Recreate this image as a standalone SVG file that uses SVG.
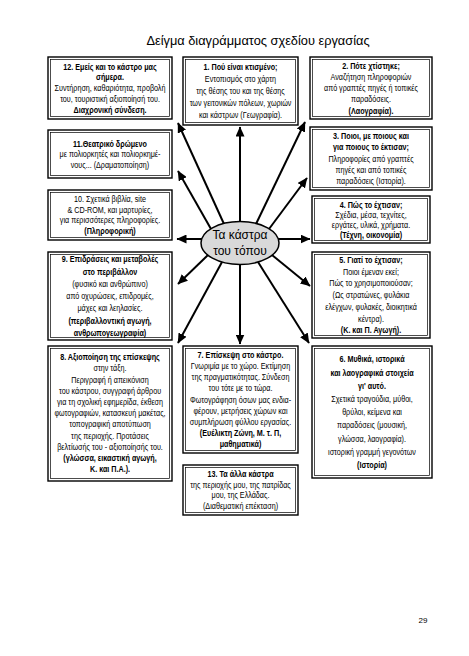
<svg xmlns="http://www.w3.org/2000/svg" width="469" height="656" viewBox="0 0 469 656">
<style>
.f{font-family:"Liberation Sans",Arial,sans-serif;font-size:9px;text-anchor:middle;fill:#000}
.b{font-weight:bold}
.o{fill:#fff;stroke:#000;stroke-width:1.4}
.i{fill:none;stroke:#000;stroke-width:0.7}
.c{stroke:#000;stroke-width:2;fill:none;marker-end:url(#ah)}
.t{font-family:"Liberation Sans",Arial,sans-serif;font-size:12.8px;text-anchor:middle;fill:#000}
</style>
<defs>
<marker id="ah" markerUnits="userSpaceOnUse" markerWidth="11" markerHeight="9" refX="9.5" refY="4.5" orient="auto">
<path d="M0,0 L10,4.5 L0,9 z" fill="#000"/>
</marker>
</defs>
<rect width="469" height="656" fill="#fff"/>
<text class="t" x="258" y="45">Δείγμα διαγράμματος σχεδίου εργασίας</text>

<g id="connectors">
<line class="c" x1="240" y1="222" x2="240" y2="127"/>
<line class="c" x1="224" y1="224" x2="178" y2="123"/>
<line class="c" x1="211" y1="229" x2="178" y2="171"/>
<line class="c" x1="256" y1="224" x2="305" y2="122"/>
<line class="c" x1="269" y1="229" x2="307" y2="178"/>
<line class="c" x1="202" y1="239" x2="177" y2="239"/>
<line class="c" x1="278" y1="239" x2="310" y2="239"/>
<line class="c" x1="208" y1="255" x2="178" y2="284"/>
<line class="c" x1="272" y1="255" x2="310" y2="286"/>
<line class="c" x1="222" y1="262" x2="178" y2="343"/>
<line class="c" x1="258" y1="262" x2="309" y2="343"/>
<line class="c" x1="240" y1="264" x2="240" y2="344"/>
</g>

<g id="center">
<ellipse cx="240" cy="243" rx="39" ry="21.5" fill="#d9d9d9" stroke="#000" stroke-width="1.5"/>
<text class="t" x="240" y="239" style="font-size:12px">Τα κάστρα</text>
<text class="t" x="240" y="255" style="font-size:12px">του τόπου</text>
</g>

<g id="n12">
<rect class="o" x="48" y="57" width="124" height="62"/><rect class="i" x="50.5" y="59.5" width="119" height="57"/>
<g transform="translate(110 0) scale(0.8 1)">
<text class="f b" x="0" y="69.6">12. Εμείς και το κάστρο μας</text>
<text class="f b" x="0" y="80.4">σήμερα.</text>
<text class="f" x="0" y="91.2">Συντήρηση, καθαριότητα, προβολή</text>
<text class="f" x="0" y="102">του, τουριστική αξιοποίησή του.</text>
<text class="f b" x="0" y="112.8">Διαχρονική σύνδεση.</text>
</g>
</g>

<g id="n1">
<rect class="o" x="183" y="57" width="115" height="68"/><rect class="i" x="185.5" y="59.5" width="110" height="63"/>
<g transform="translate(240.5 0) scale(0.8 1)">
<text class="f b" x="0" y="70">1. Πού είναι κτισμένο;</text>
<text class="f" x="0" y="82">Εντοπισμός στο χάρτη</text>
<text class="f" x="0" y="94">της θέσης του και της θέσης</text>
<text class="f" x="0" y="106">των γειτονικών πόλεων, χωριών</text>
<text class="f" x="0" y="118">και κάστρων (Γεωγραφία).</text>
</g>
</g>

<g id="n2">
<rect class="o" x="310" y="57" width="122" height="62"/><rect class="i" x="312.5" y="59.5" width="117" height="57"/>
<g transform="translate(371 0) scale(0.8 1)">
<text class="f b" x="0" y="68.6">2. Πότε χτίστηκε;</text>
<text class="f" x="0" y="79.9">Αναζήτηση πληροφοριών</text>
<text class="f" x="0" y="91.2">από γραπτές πηγές ή τοπικές</text>
<text class="f" x="0" y="102.5">παραδόσεις.</text>
<text class="f b" x="0" y="113.8">(Λαογραφία).</text>
</g>
</g>

<g id="n11">
<rect class="o" x="48" y="130" width="124" height="48"/><rect class="i" x="50.5" y="132.5" width="119" height="43"/>
<g transform="translate(110 0) scale(0.8 1)">
<text class="f b" x="0" y="146.7">11.Θεατρικό δρώμενο</text>
<text class="f" x="0" y="157.2">με πολιορκητές και πολιορκημέ-</text>
<text class="f" x="0" y="167.7">νους... (Δραματοποίηση)</text>
</g>
</g>

<g id="n3">
<rect class="o" x="310" y="127" width="122" height="63"/><rect class="i" x="312.5" y="129.5" width="117" height="58"/>
<g transform="translate(371 0) scale(0.8 1)">
<text class="f b" x="0" y="139.1">3. Ποιοι, με ποιους και</text>
<text class="f b" x="0" y="150.4">για ποιους το έκτισαν;</text>
<text class="f" x="0" y="161.7">Πληροφορίες από γραπτές</text>
<text class="f" x="0" y="173">πηγές και από τοπικές</text>
<text class="f" x="0" y="184.3">παραδόσεις (Ιστορία).</text>
</g>
</g>

<g id="n10">
<rect class="o" x="48" y="190" width="124" height="50"/><rect class="i" x="50.5" y="192.5" width="119" height="45"/>
<g transform="translate(110 0) scale(0.8 1)">
<text class="f" x="0" y="202.5">10. Σχετικά βιβλία, site</text>
<text class="f" x="0" y="213">&amp; CD-ROM, και μαρτυρίες,</text>
<text class="f" x="0" y="223.5">για περισσότερες πληροφορίες.</text>
<text class="f b" x="0" y="234">(Πληροφορική)</text>
</g>
</g>

<g id="n4">
<rect class="o" x="312" y="196" width="118" height="47"/><rect class="i" x="314.5" y="198.5" width="113" height="42"/>
<g transform="translate(371 0) scale(0.8 1)">
<text class="f b" x="0" y="207.7">4. Πώς το έχτισαν;</text>
<text class="f" x="0" y="217.7">Σχέδια, μέσα, τεχνίτες,</text>
<text class="f" x="0" y="227.7">εργάτες, υλικά, χρήματα.</text>
<text class="f b" x="0" y="237.7">(Τέχνη, οικονομία)</text>
</g>
</g>

<g id="n9">
<rect class="o" x="48" y="252" width="124" height="88"/><rect class="i" x="50.5" y="254.5" width="119" height="83"/>
<g transform="translate(110 0) scale(0.8 1)">
<text class="f b" x="0" y="262.3">9. Επιδράσεις και μεταβολές</text>
<text class="f b" x="0" y="274.6">στο περιβάλλον</text>
<text class="f" x="0" y="286.9">(φυσικό και ανθρώπινο)</text>
<text class="f" x="0" y="299.2">από οχυρώσεις, επιδρομές,</text>
<text class="f" x="0" y="311.5">μάχες και λεηλασίες.</text>
<text class="f b" x="0" y="323.8">(περιβαλλοντική αγωγή,</text>
<text class="f b" x="0" y="336.1">ανθρωπογεωγραφία)</text>
</g>
</g>

<g id="n5">
<rect class="o" x="312" y="252" width="118" height="86"/><rect class="i" x="314.5" y="254.5" width="113" height="81"/>
<g transform="translate(371 0) scale(0.8 1)">
<text class="f b" x="0" y="263.1">5. Γιατί το έχτισαν;</text>
<text class="f" x="0" y="274.8">Ποιοι έμεναν εκεί;</text>
<text class="f" x="0" y="286.5">Πώς το χρησιμοποιούσαν;</text>
<text class="f" x="0" y="298.2">(Ως στρατώνες, φυλάκια</text>
<text class="f" x="0" y="309.9">ελέγχων, φυλακές, διοικητικά</text>
<text class="f" x="0" y="321.6">κέντρα).</text>
<text class="f b" x="0" y="333.3">(Κ. και Π. Αγωγή).</text>
</g>
</g>

<g id="n8">
<rect class="o" x="48" y="346" width="124" height="135"/><rect class="i" x="50.5" y="348.5" width="119" height="130"/>
<g transform="translate(110 0) scale(0.8 1)">
<text class="f b" x="0" y="360.2">8. Αξιοποίηση της επίσκεψης</text>
<text class="f" x="0" y="371.4">στην τάξη.</text>
<text class="f" x="0" y="382.6">Περιγραφή ή απεικόνιση</text>
<text class="f" x="0" y="393.8">του κάστρου, συγγραφή άρθρου</text>
<text class="f" x="0" y="405">για τη σχολική εφημερίδα, έκθεση</text>
<text class="f" x="0" y="416.2">φωτογραφιών, κατασκευή μακέτας,</text>
<text class="f" x="0" y="427.4">τοπογραφική αποτύπωση</text>
<text class="f" x="0" y="438.6">της περιοχής. Προτάσεις</text>
<text class="f" x="0" y="449.8">βελτίωσής του - αξιοποίησής του.</text>
<text class="f b" x="0" y="461">(γλώσσα, εικαστική αγωγή,</text>
<text class="f b" x="0" y="472.2">Κ. και Π.Α.).</text>
</g>
</g>

<g id="n7">
<rect class="o" x="183" y="346" width="115" height="107"/><rect class="i" x="185.5" y="348.5" width="110" height="102"/>
<g transform="translate(240.5 0) scale(0.8 1)">
<text class="f b" x="0" y="357.9">7. Επίσκεψη στο κάστρο.</text>
<text class="f" x="0" y="369.1">Γνωριμία με το χώρο. Εκτίμηση</text>
<text class="f" x="0" y="380.3">της πραγματικότητας. Σύνδεση</text>
<text class="f" x="0" y="391.5">του τότε με το τώρα.</text>
<text class="f" x="0" y="402.7">Φωτογράφηση όσων μας ενδια-</text>
<text class="f" x="0" y="413.9">φέρουν, μετρήσεις χώρων και</text>
<text class="f" x="0" y="425.1">συμπλήρωση φύλλου εργασίας.</text>
<text class="f b" x="0" y="436.3">(Ευέλικτη Ζώνη, Μ. τ. Π,</text>
<text class="f b" x="0" y="447.5">μαθηματικά)</text>
</g>
</g>

<g id="n6">
<rect class="o" x="312" y="346" width="120" height="132"/><rect class="i" x="314.5" y="348.5" width="115" height="127"/>
<g transform="translate(372 0) scale(0.8 1)">
<text class="f b" x="0" y="362.4">6. Μυθικά, ιστορικά</text>
<text class="f b" x="0" y="375.6">και λαογραφικά στοιχεία</text>
<text class="f b" x="0" y="388.8">γι' αυτό.</text>
<text class="f" x="0" y="402">Σχετικά τραγούδια, μύθοι,</text>
<text class="f" x="0" y="415.2">θρύλοι, κείμενα και</text>
<text class="f" x="0" y="428.4">παραδόσεις (μουσική,</text>
<text class="f" x="0" y="441.6">γλώσσα, λαογραφία).</text>
<text class="f" x="0" y="454.8">ιστορική γραμμή γεγονότων</text>
<text class="f b" x="0" y="468">(Ιστορία)</text>
</g>
</g>

<g id="n13">
<rect class="o" x="183" y="465" width="115" height="50"/><rect class="i" x="185.5" y="467.5" width="110" height="45"/>
<g transform="translate(240.5 0) scale(0.8 1)">
<text class="f b" x="0" y="477.5">13. Τα άλλα κάστρα</text>
<text class="f" x="0" y="488">της περιοχής μου, της πατρίδας</text>
<text class="f" x="0" y="498.5">μου, της Ελλάδας.</text>
<text class="f" x="0" y="509">(Διαθεματική επέκταση)</text>
</g>
</g>

<text x="423" y="623" style="font-family:'Liberation Sans',Arial,sans-serif;font-size:8px;text-anchor:middle">29</text>
</svg>
